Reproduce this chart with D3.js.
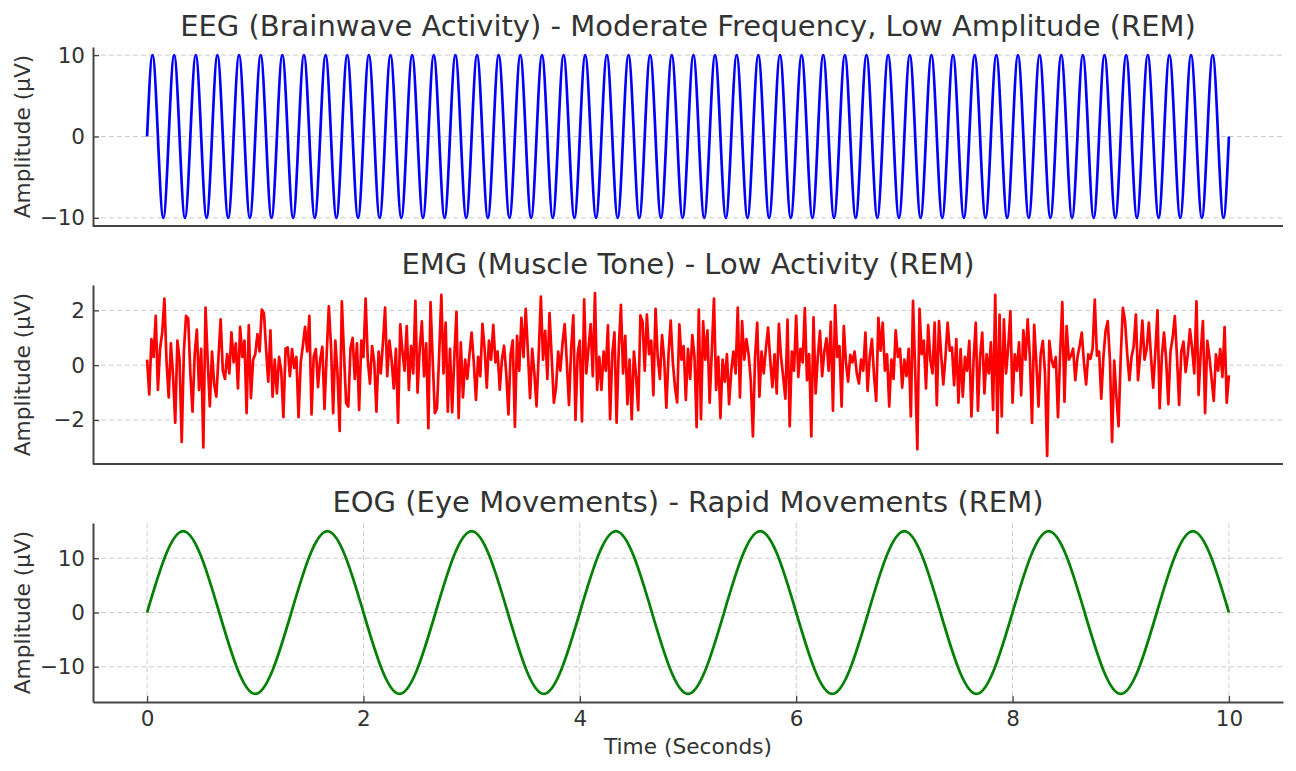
<!DOCTYPE html>
<html>
<head>
<meta charset="utf-8">
<script src="https://cdn.jsdelivr.net/npm/d3@7"></script>
<style>
  body { margin: 0; background: #fff; }
  svg text { font-family: "DejaVu Sans", sans-serif; fill: #333; }
</style>
</head>
<body>
<svg id="chart" width="1296" height="771"></svg>
<script>
// shared time axis
var timeStart = 0, timeEnd = 10;
var xTicks = [0, 2, 4, 6, 8, 10];
var xLabel = "Time (Seconds)";
var yLabel = "Amplitude (\u03bcV)";

// EEG: zero crossings and peaks, one every 0.05 s
var eegTitle = "EEG (Brainwave Activity) - Moderate Frequency, Low Amplitude (REM)";
var eegStep = 0.05;
var eegValues = [
  0,10,0,-10, 0,10,0,-10, 0,10,0,-10, 0,10,0,-10, 0,10,0,-10,
  0,10,0,-10, 0,10,0,-10, 0,10,0,-10, 0,10,0,-10, 0,10,0,-10,
  0,10,0,-10, 0,10,0,-10, 0,10,0,-10, 0,10,0,-10, 0,10,0,-10,
  0,10,0,-10, 0,10,0,-10, 0,10,0,-10, 0,10,0,-10, 0,10,0,-10,
  0,10,0,-10, 0,10,0,-10, 0,10,0,-10, 0,10,0,-10, 0,10,0,-10,
  0,10,0,-10, 0,10,0,-10, 0,10,0,-10, 0,10,0,-10, 0,10,0,-10,
  0,10,0,-10, 0,10,0,-10, 0,10,0,-10, 0,10,0,-10, 0,10,0,-10,
  0,10,0,-10, 0,10,0,-10, 0,10,0,-10, 0,10,0,-10, 0,10,0,-10,
  0,10,0,-10, 0,10,0,-10, 0,10,0,-10, 0,10,0,-10, 0,10,0,-10,
  0,10,0,-10, 0,10,0,-10, 0,10,0,-10, 0,10,0,-10, 0,10,0,-10,
  0
];
var eegTicks = [-10, 0, 10];

// EMG: noisy trace, one value every 0.02 s
var emgTitle = "EMG (Muscle Tone) - Low Activity (REM)";
var emgStep = 0.02;
var emgValues = [
  0.2,-1.07,0.95,0.3,1.8,-0.9,0.6,1.2,2.43,0.1,-1.18,0.8,-0.4,-2.1,0.9,0.2,-2.8,0.5,1.8,1.7,-0.3,-1.7,0.4,1.3,-0.9,
  0.6,-3.0,2.1,0.2,-1.5,0.5,-0.7,-1.15,0.3,1.67,-0.2,-0.5,0.4,-0.3,1.2,0.1,0.8,-0.85,1.4,0.3,0.9,-1.75,1.46,-1.2,0.2,
  0.4,1.13,0.5,2.03,1.9,0.6,-0.6,1.27,-1.15,0.2,-1.03,0.3,-0.2,-1.9,0.6,0.65,-0.4,0.59,-0.1,0.3,-1.9,0.1,0.71,1.4,0.5,
  1.8,-1.8,0.3,0.59,-0.8,0.2,0.67,-1.6,0.4,2.15,0.7,-1.75,0.9,-0.3,-2.4,2.33,0.4,-1.39,-1.51,0.6,1.0,-0.5,0.8,-1.63,0.9,
  0.3,2.43,0.2,-0.67,0.7,0.1,-1.7,0.5,-0.3,0.8,2.1,-0.4,0.9,0.2,-0.85,0.6,-2.1,1.49,0.5,-0.2,1.43,-0.9,0.7,-0.3,2.35,
  -1.0,0.6,1.6,-0.4,0.8,-2.3,2.3,0.2,-1.75,-1.57,0.4,2.57,-0.3,1.55,-1.7,0.6,-1.72,0.3,1.95,-1.93,0.83,-1.18,0.2,-0.5,0.4,
  1.19,0.1,-1.27,0.3,-0.4,1.51,0.6,-0.82,0.9,0.2,1.47,0.1,0.5,-0.89,0.2,0.71,-0.3,-1.8,0.4,0.91,-2.25,1.07,-0.2,1.73,0.3,
  2.06,0.5,-1.2,0.6,-0.3,-1.5,0.4,2.5,0.2,1.25,-0.5,1.9,0.3,-1.37,-0.82,0.5,-0.2,0.8,1.5,0.1,-1.45,0.6,1.82,-2.0,0.4,
  0.9,-2.05,2.4,-0.3,0.6,1.5,-0.4,2.63,-0.9,0.3,-0.9,0.5,-0.2,1.45,-1.97,0.4,1.2,-2.1,0.6,2.2,-0.3,1.07,-1.42,0.2,-1.97,
  0.5,-0.4,-1.64,1.82,1.58,-0.2,1.85,0.4,0.9,-1.1,2.06,0.3,-0.5,1.1,0.2,-1.55,0.4,1.63,0.1,-0.82,-1.36,1.49,0.2,0.7,-1.27,
  0.6,-0.5,1.1,0.3,-2.26,2.03,-1.97,1.6,0.2,1.27,-1.37,0.5,2.43,-0.9,0.3,-1.93,0.2,-0.6,0.4,-1.42,-0.2,0.5,-0.3,2.1,-1.18,
  1.61,0.2,0.95,0.4,-0.55,-2.6,0.3,1.55,-1.15,0.5,-0.3,0.6,1.37,0.2,-0.8,0.4,-1.03,1.51,0.3,-0.43,-1.22,1.66,-2.23,0.5,-0.2,
  1.8,-0.43,0.6,0.1,2.08,-0.55,0.4,-2.6,1.75,-1.03,0.3,1.25,-0.4,0.5,0.98,-0.2,1.58,-1.66,2.18,0.3,0.7,-1.51,1.43,0.1,-0.6,
  0.38,0.1,0.5,-0.3,-0.67,0.2,-0.2,1.19,-0.94,0.3,0.95,-0.4,-1.3,1.73,0.53,1.55,-0.2,0.4,-1.51,0.2,-0.5,1.27,0.3,0.6,-0.82,
  0.2,-0.4,0.6,-1.87,2.35,-0.19,-3.07,2.06,0.4,0.9,-0.85,1.46,0.2,-0.3,1.55,-1.46,1.61,0.4,-0.7,0.3,1.55,0.53,0.65,-0.73,0.95,
  -1.37,0.59,-1.15,0.3,-0.2,0.89,-1.87,0.2,1.55,-1.66,0.3,1.19,-1.03,0.4,-0.3,0.83,-1.63,2.57,-2.47,1.85,-1.87,1.67,-0.3,0.65,1.97,
  -1.37,0.4,-0.2,0.83,-1.1,1.27,0.2,1.67,0.3,-2.11,1.47,0.1,-1.51,0.4,0.89,-0.3,-3.31,0.89,0.2,-0.07,0.3,-1.9,0.4,2.3,-1.33,
  1.43,0.2,0.35,0.6,-0.55,0.29,0.7,1.19,0.1,-0.7,0.4,0.23,0.6,2.39,0.35,0.5,-1.22,0.3,1.25,1.61,0.2,-2.8,0.17,-1.15,-2.23,
  0.3,2.09,1.61,0.4,-0.55,0.3,0.7,1.85,-0.55,0.4,1.63,0.2,0.6,1.55,0.3,-0.82,0.5,2.0,-1.57,0.3,1.19,0.2,-1.42,0.5,1.0,
  1.79,0.3,-1.45,0.5,0.86,-0.25,0.4,1.31,0.6,-0.3,2.33,-1.09,0.5,1.61,-1.75,0.89,0.3,-0.5,-1.3,0.4,-0.2,0.59,-0.43,1.39,-1.37,
  -0.37
];
var emgTicks = [-2, 0, 2];

// EOG: slow eye movement wave, zero crossings and peaks every 1/3 s
var eogTitle = "EOG (Eye Movements) - Rapid Movements (REM)";
var eogStep = 1 / 3;
var eogValues = [
  0,15,0,-15, 0,15,0,-15, 0,15,0,-15, 0,15,0,-15,
  0,15,0,-15, 0,15,0,-15, 0,15,0,-15, 0,15,0
];
var eogTicks = [-10, 0, 10];

var W = 1296, H = 771;
var left = 93, right = 1283;
var panelH = 179;
var tickFont = 21.5, labelFont = 21.7, titleFont = 29;

var panels = [
  { title: eegTitle, step: eegStep, values: eegValues, ticks: eegTicks, color: "#0000ff", top: 47,  curve: d3.curveNatural, xgrid: false },
  { title: emgTitle, step: emgStep, values: emgValues, ticks: emgTicks, color: "#ff0000", top: 285, curve: d3.curveLinear,  xgrid: false },
  { title: eogTitle, step: eogStep, values: eogValues, ticks: eogTicks, color: "#008000", top: 523, curve: d3.curveNatural, xgrid: true }
];

var svg = d3.select("#chart");
svg.append("rect").attr("width", W).attr("height", H).attr("fill", "#fff");

var tPad = (timeEnd - timeStart) * 0.05;
var x = d3.scaleLinear()
  .domain([timeStart - tPad, timeEnd + tPad])
  .range([left, right]);

panels.forEach(function(p, k) {
  var ext = d3.extent(p.values);
  var pad = (ext[1] - ext[0]) * 0.05;
  var y = d3.scaleLinear()
    .domain([ext[0] - pad, ext[1] + pad])
    .range([p.top + panelH, p.top]);

  var g = svg.append("g");

  // grid
  g.selectAll(".hgrid").data(p.ticks).enter().append("line")
    .attr("x1", left).attr("x2", right)
    .attr("y1", function(d) { return y(d); })
    .attr("y2", function(d) { return y(d); })
    .attr("stroke", "#cccccc").attr("stroke-width", 1)
    .attr("stroke-dasharray", "5,3");
  if (p.xgrid) {
    g.selectAll(".vgrid").data(xTicks).enter().append("line")
      .attr("x1", function(d) { return x(d); })
      .attr("x2", function(d) { return x(d); })
      .attr("y1", p.top).attr("y2", p.top + panelH)
      .attr("stroke", "#cccccc").attr("stroke-width", 1)
      .attr("stroke-dasharray", "5,3");
  }

  // trace
  var line = d3.line()
    .x(function(d, i) { return x(timeStart + i * p.step); })
    .y(function(d) { return y(d); })
    .curve(p.curve);
  g.append("path")
    .datum(p.values)
    .attr("d", line)
    .attr("fill", "none")
    .attr("stroke", p.color)
    .attr("stroke-width", 2.7)
    .attr("stroke-linejoin", "round");

  // y axis (ticks point inward)
  var yAxis = g.append("g")
    .attr("transform", "translate(" + left + ",0)")
    .call(d3.axisLeft(y).tickValues(p.ticks).tickSizeInner(-6).tickSizeOuter(0).tickPadding(8)
      .tickFormat(function(d) { return d < 0 ? "\u2212" + Math.abs(d) : d; }));
  yAxis.select(".domain").attr("stroke", "#444").attr("stroke-width", 2);
  yAxis.selectAll(".tick line").attr("stroke", "#444").attr("stroke-width", 1.3);
  yAxis.selectAll("text").attr("font-size", tickFont).attr("fill", "#333")
    .style("font-family", "DejaVu Sans, sans-serif");

  // bottom spine, with ticks and labels only on the last panel
  if (k === panels.length - 1) {
    var xAxis = g.append("g")
      .attr("transform", "translate(0," + (p.top + panelH) + ")")
      .call(d3.axisBottom(x).tickValues(xTicks).tickSizeInner(-6).tickSizeOuter(0).tickPadding(9));
    xAxis.select(".domain").attr("stroke", "#444").attr("stroke-width", 2);
    xAxis.selectAll(".tick line").attr("stroke", "#444").attr("stroke-width", 1.3);
    xAxis.selectAll("text").attr("font-size", tickFont).attr("fill", "#333")
      .style("font-family", "DejaVu Sans, sans-serif");
  } else {
    g.append("line")
      .attr("x1", left).attr("x2", right)
      .attr("y1", p.top + panelH).attr("y2", p.top + panelH)
      .attr("stroke", "#444").attr("stroke-width", 2);
  }

  // title
  g.append("text")
    .attr("x", (left + right) / 2)
    .attr("y", p.top - 11)
    .attr("text-anchor", "middle")
    .attr("font-size", titleFont)
    .text(p.title);

  // y label
  g.append("text")
    .attr("transform", "translate(30," + (p.top + panelH / 2) + ") rotate(-90)")
    .attr("text-anchor", "middle")
    .attr("font-size", labelFont)
    .text(yLabel);
});

svg.append("text")
  .attr("x", (left + right) / 2)
  .attr("y", 754)
  .attr("text-anchor", "middle")
  .attr("font-size", labelFont)
  .text(xLabel);
</script>
</body>
</html>
